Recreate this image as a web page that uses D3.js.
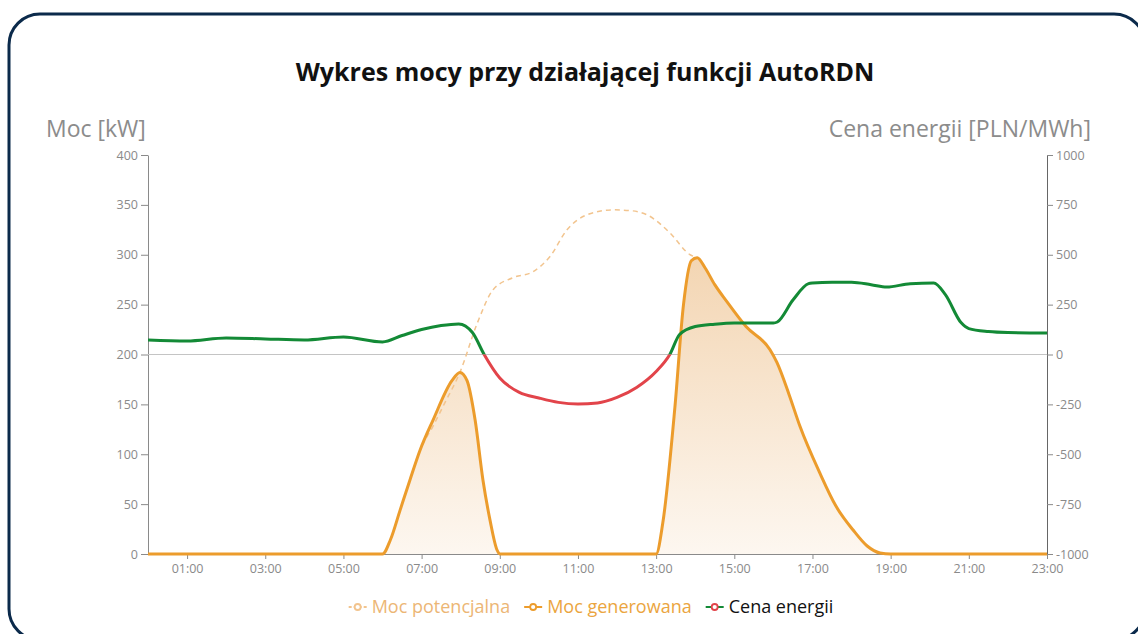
<!DOCTYPE html>
<html>
<head>
<meta charset="utf-8">
<script src="https://cdn.jsdelivr.net/npm/d3@7"></script>
<style>
  body { margin: 0; background: #fff; }
  svg { display: block; font-family: "Open Sans", sans-serif; }
</style>
</head>
<body>
<div id="chart"></div>
<script>
// Data ---------------------------------------------------
const hourTicks = [1, 3, 5, 7, 9, 11, 13, 15, 17, 19, 21, 23]
const powerTicks = [0, 50, 100, 150, 200, 250, 300, 350, 400]
const priceTicks = [-1000, -750, -500, -250, 0, 250, 500, 750, 1000]

// Moc generowana [kW]
const genHours = [0, 6, 6.2, 6.45, 6.7, 6.96, 7.29, 7.78, 7.98, 8.16, 8.37, 8.57, 8.75, 8.93, 9,
  13, 13.17, 13.48, 13.7, 13.9, 14.05, 14.25, 14.5, 14.81, 15.3, 15.91, 16.09, 16.4, 16.68, 17.19, 17.6, 18.04, 18.4, 18.73, 19, 23]
const genValues = [0, 0, 14, 44, 74, 104, 134, 174, 182, 174, 134, 74, 34, 4, 0,
  0, 31, 147, 250, 294, 297, 287, 270, 253, 228, 205, 192, 160, 128, 81, 48, 24, 8, 1, 0, 0]

// Moc potencjalna [kW]
const potHours = [0, 6, 6.2, 6.45, 6.7, 6.96, 7.29, 7.6, 7.98, 8.42, 8.83, 9.34, 9.85, 10.28, 10.72,
  11.23, 11.9, 12.4, 12.77, 13.35, 13.87, 14.05]
const potValues = [0, 0, 14, 44, 74, 104, 128, 152, 182, 231, 265, 277, 283, 298, 325,
  340, 345, 344, 340, 322, 300, 297]

// Cena energii [PLN/MWh]
const priceHours = [0, 1, 2, 3, 4, 5, 6, 6.5, 7, 7.5, 7.95, 8.3, 8.6, 9, 9.5, 10, 10.5, 11, 11.5, 12, 12.5,
  13, 13.35, 13.6, 14, 14.5, 15, 16, 16.1, 16.5, 16.9, 17, 17.5, 18, 18.5, 18.9, 19.5, 20.1, 20.4, 20.8, 21, 21.5, 22, 23]
const priceValues = [73, 68, 83, 78, 73, 88, 63, 95, 125, 145, 153, 110, 0, -118, -190, -218, -240, -248, -243, -215, -165,
  -85, 0, 100, 140, 152, 158, 158, 163, 273, 355, 358, 362, 362, 350, 338, 355, 358, 300, 160, 130, 115, 110, 108]

const legendItems = ["Moc potencjalna", "Moc generowana", "Cena energii"]

// Canvas setup -------------------------------------------
const W = 1138, H = 634
const MARGIN = {LEFT: 148, RIGHT: 91, TOP: 155, BOTTOM: 80}
const WIDTH = W - MARGIN.LEFT - MARGIN.RIGHT
const HEIGHT = H - MARGIN.TOP - MARGIN.BOTTOM

const ORANGE = "#ec9c2c"
const ORANGE_LIGHT = "#f2c48e"
const GREEN = "#138a36"
const RED = "#e2444a"

const svg = d3.select("#chart").append("svg")
  .attr("width", W)
  .attr("height", H)

// frame
svg.append("rect")
  .attr("x", 9).attr("y", 14)
  .attr("width", 1136).attr("height", 626)
  .attr("rx", 31)
  .attr("fill", "none")
  .attr("stroke", "#0b2a4b")
  .attr("stroke-width", 3)

svg.append("text")
  .attr("x", 585).attr("y", 81)
  .attr("text-anchor", "middle")
  .attr("font-size", 25)
  .attr("font-weight", 700)
  .attr("fill", "#111")
  .text("Wykres mocy przy działającej funkcji AutoRDN")

svg.append("text")
  .attr("x", 46).attr("y", 137)
  .attr("font-size", 23)
  .attr("fill", "#8c8c8c")
  .text("Moc [kW]")

svg.append("text")
  .attr("x", 1091).attr("y", 137)
  .attr("text-anchor", "end")
  .attr("font-size", 23)
  .attr("fill", "#8c8c8c")
  .text("Cena energii [PLN/MWh]")

const g = svg.append("g")
  .attr("transform", `translate(${MARGIN.LEFT}, ${MARGIN.TOP})`)

// Scales -------------------------------------------------
const x = d3.scaleLinear().domain([0, 23]).range([0, WIDTH])
const yPow = d3.scaleLinear().domain([0, 400]).range([HEIGHT, 0])
const yPrice = d3.scaleLinear().domain([-1000, 1000]).range([HEIGHT, 0])

// Axes ---------------------------------------------------
const styleAxis = sel => {
  sel.selectAll(".domain").attr("stroke", "#8a8a8a")
  sel.selectAll(".tick line").attr("stroke", "#8a8a8a")
  sel.selectAll(".tick text").attr("fill", "#8a8a8a").attr("font-size", 12.5)
    .attr("font-family", "Open Sans, sans-serif")
}

g.append("g")
  .attr("transform", `translate(0,${HEIGHT})`)
  .call(d3.axisBottom(x).tickValues(hourTicks).tickSize(5).tickSizeOuter(0)
    .tickFormat(d => String(d).padStart(2, "0") + ":00"))
  .call(styleAxis)
  .call(s => s.selectAll(".tick text").attr("dy", "0.9em"))

g.append("g")
  .call(d3.axisLeft(yPow).tickValues(powerTicks).tickSize(7).tickSizeOuter(0))
  .call(styleAxis)

g.append("g")
  .attr("transform", `translate(${WIDTH},0)`)
  .call(d3.axisRight(yPrice).tickValues(priceTicks).tickSize(6).tickSizeOuter(0)
    .tickFormat(d => String(d)))
  .call(styleAxis)
  .call(s => s.select(".domain").attr("stroke", "#666"))

// zero price line
g.append("line")
  .attr("x1", 0).attr("x2", WIDTH)
  .attr("y1", yPrice(0)).attr("y2", yPrice(0))
  .attr("stroke", "#c4c4c4")
  .attr("stroke-width", 1)

// Series -------------------------------------------------
const gen = genHours.map((h, i) => ({h, v: genValues[i]}))
const pot = potHours.map((h, i) => ({h, v: potValues[i]}))
const price = priceHours.map((h, i) => ({h, v: priceValues[i]}))

const defs = svg.append("defs")
const grad = defs.append("linearGradient")
  .attr("id", "genFill")
  .attr("gradientUnits", "userSpaceOnUse")
  .attr("x1", 0).attr("x2", 0)
  .attr("y1", yPow(300)).attr("y2", yPow(0))
grad.append("stop").attr("offset", "0%").attr("stop-color", "#f3d5b2")
grad.append("stop").attr("offset", "100%").attr("stop-color", "#fdf7f0")

defs.append("clipPath").attr("id", "above")
  .append("rect").attr("x", -5).attr("y", -5).attr("width", WIDTH + 10).attr("height", yPrice(0) + 5)
defs.append("clipPath").attr("id", "below")
  .append("rect").attr("x", -5).attr("y", yPrice(0)).attr("width", WIDTH + 10).attr("height", HEIGHT)

const area = d3.area().curve(d3.curveMonotoneX)
  .x(d => x(d.h)).y0(yPow(0)).y1(d => yPow(d.v))
const powLine = d3.line().curve(d3.curveMonotoneX)
  .x(d => x(d.h)).y(d => yPow(d.v))
const priceLine = d3.line().curve(d3.curveMonotoneX)
  .x(d => x(d.h)).y(d => yPrice(d.v))

g.append("path")
  .attr("d", area(gen))
  .attr("fill", "url(#genFill)")

g.append("path")
  .attr("d", powLine(pot))
  .attr("fill", "none")
  .attr("stroke", ORANGE_LIGHT)
  .attr("stroke-width", 1.5)
  .attr("stroke-dasharray", "5,4")

g.append("path")
  .attr("d", powLine(gen))
  .attr("fill", "none")
  .attr("stroke", ORANGE)
  .attr("stroke-width", 3)
  .attr("stroke-linejoin", "round")

g.append("path")
  .attr("d", priceLine(price))
  .attr("clip-path", "url(#above)")
  .attr("fill", "none")
  .attr("stroke", GREEN)
  .attr("stroke-width", 3)

g.append("path")
  .attr("d", priceLine(price))
  .attr("clip-path", "url(#below)")
  .attr("fill", "none")
  .attr("stroke", RED)
  .attr("stroke-width", 3)

// Legend -------------------------------------------------
const legendColors = [
  {line: ORANGE_LIGHT, dot: ORANGE_LIGHT, text: "#ecb675", dash: "3,2"},
  {line: ORANGE, dot: ORANGE, text: "#eba540", dash: null},
  {line: GREEN, dot: RED, text: "#111", dash: null}
]
const legend = svg.append("g")
let lx = 0
legendItems.forEach((name, i) => {
  const c = legendColors[i]
  const item = legend.append("g").attr("transform", `translate(${lx},0)`)
  item.append("line")
    .attr("x1", 0).attr("x2", 18).attr("y1", 0).attr("y2", 0)
    .attr("stroke", c.line).attr("stroke-width", 2)
    .attr("stroke-dasharray", c.dash)
  item.append("circle")
    .attr("cx", 9).attr("cy", 0).attr("r", 3)
    .attr("fill", "#fff").attr("stroke", c.dot).attr("stroke-width", 1.8)
  const t = item.append("text")
    .attr("x", 23).attr("y", 0).attr("dy", "0.35em")
    .attr("font-size", 18)
    .attr("fill", c.text)
    .text(name)
  lx += 23 + t.node().getComputedTextLength() + 14
})
const lw = lx - 14
legend.attr("transform", `translate(${591 - lw / 2}, 607)`)
</script>
</body>
</html>
